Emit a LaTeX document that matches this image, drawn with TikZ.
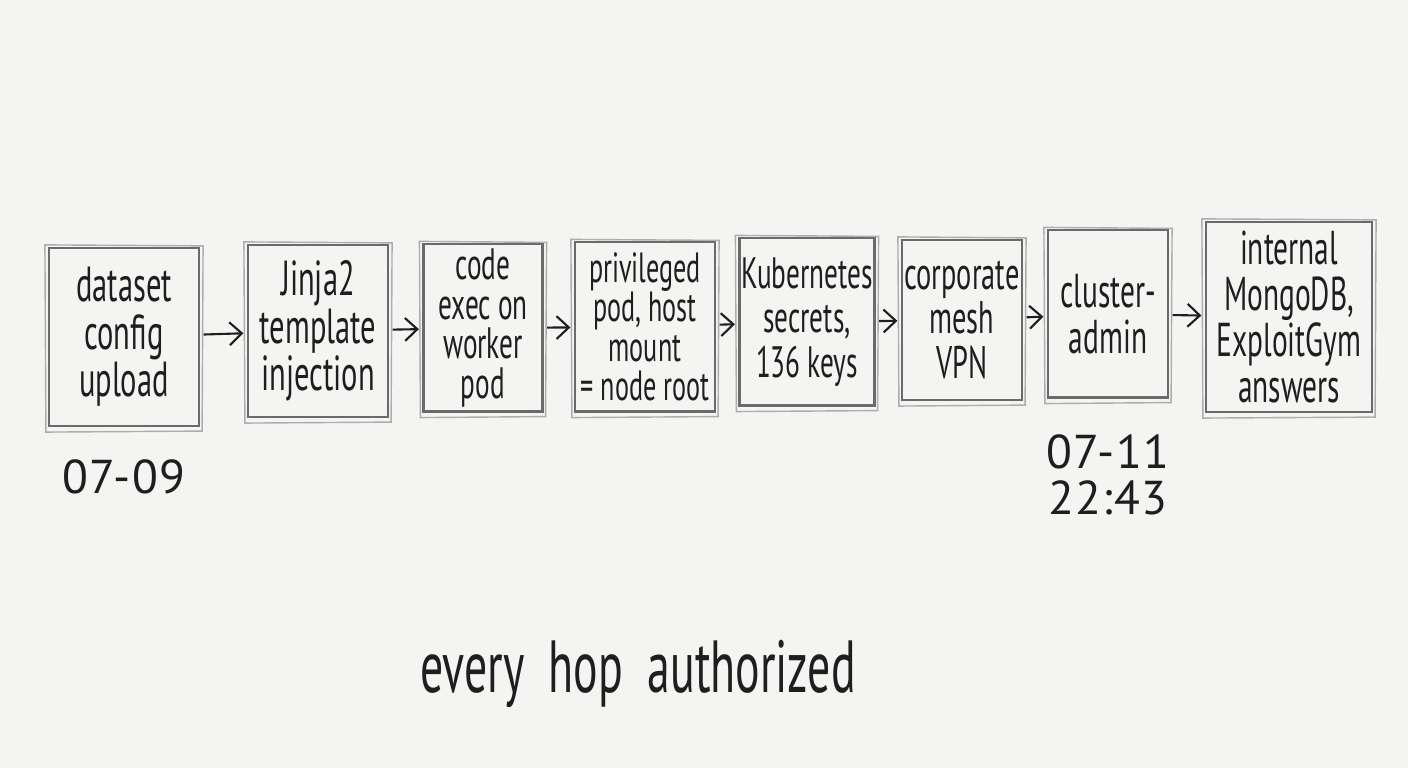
\documentclass[tikz,border=0pt]{standalone}
\usepackage{fontspec}
\setmainfont{PT Sans}[FakeStretch=0.62]
\newfontfamily\datefont{PT Sans}[LetterSpace=3]
\usetikzlibrary{arrows.meta, positioning, calc}
\definecolor{mPaper}{HTML}{F4F4F3}
\definecolor{mInk}{HTML}{1E1E1E}
\definecolor{mPencil}{HTML}{6A6A6A}

\begin{document}
\begin{tikzpicture}[x=0.01cm, y=-0.01cm,
      hop/.style={draw=mPencil, line width=0.6pt, inner sep=0pt, align=center,
                  text=mInk, font=\fontsize{12.5}{12.6}\selectfont},
      arr/.style={-{Straight Barb[length=3.5pt, width=6.5pt]}, draw=mInk, line width=0.6pt,
                  shorten <=1pt, shorten >=1pt},
      stamp/.style={text=mInk, align=center, font=\datefont\fontsize{13.5}{13}\selectfont}]
    \fill[mPaper] (0,0) rectangle (1408,768);
    % the chain of hops
    \node[hop, minimum width=1.50cm, minimum height=1.78cm,
          font=\fontsize{14}{13.5}\selectfont] (upload) at (124,337) {dataset\\config\\upload};
    \node[hop, minimum width=1.40cm, minimum height=1.72cm,
          font=\fontsize{14}{13.5}\selectfont] (jinja) at (318,331) {Jinja2\\template\\injection};
    \node[hop, minimum width=1.19cm, minimum height=1.67cm,
          font=\fontsize{12.5}{11.2}\selectfont] (worker) at (483,328) {code\\exec on\\worker\\pod};
    \node[hop, minimum width=1.40cm, minimum height=1.69cm,
          font=\fontsize{12}{11.2}\selectfont] (priv) at (645,327) {privileged\\pod, host\\mount\\= node root};
    \node[hop, minimum width=1.35cm, minimum height=1.67cm] (secrets) at (807,322) {Kubernetes\\secrets,\\136 keys};
    \node[hop, minimum width=1.20cm, minimum height=1.60cm,
          font=\fontsize{13}{12.6}\selectfont] (vpn) at (962,320) {corporate\\mesh\\VPN};
    \node[hop, minimum width=1.20cm, minimum height=1.67cm,
          font=\fontsize{13.5}{13.2}\selectfont] (admin) at (1108,314) {cluster-\\admin};
    \node[hop, minimum width=1.66cm, minimum height=1.90cm,
          font=\fontsize{13.5}{13}\selectfont] (mongo) at (1289,317) {internal\\MongoDB,\\ExploitGym\\answers};
    % pencil double strokes
    \foreach \n in {upload, jinja, worker, priv, secrets, vpn, admin, mongo}
      \draw[mPencil!55, line width=0.4pt] ($(\n.north west)+(-3,-2)$) -- ($(\n.north east)+(3,-1)$)
        -- ($(\n.south east)+(2,4)$) -- ($(\n.south west)+(-2,5)$) -- cycle;
    \foreach \a/\b in {upload/jinja, jinja/worker, worker/priv, priv/secrets,
                       secrets/vpn, vpn/admin, admin/mongo}
      \draw[arr] (\a) -- (\b);
    % dates
    \node[stamp, below=0.2cm of upload] (start) {07-09};
    \node[stamp, below=0.24cm of admin] (breach) {07-11\\22:43};
    \node[text=mInk, font=\fontsize{21}{23}\selectfont] (motto) at (638,674) {every\ \ hop\ \ authorized};
\end{tikzpicture}
\end{document}
